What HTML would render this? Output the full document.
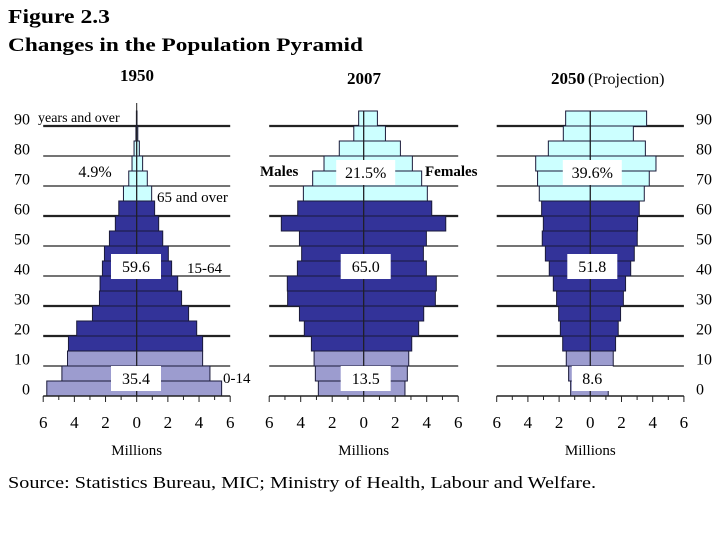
<!DOCTYPE html>
<html><head><meta charset="utf-8"><style>
html,body{margin:0;padding:0;background:#fff;}
svg{display:block;font-family:"Liberation Serif",serif;}
</style></head><body>
<svg id="chart" width="720" height="540" viewBox="0 0 720 540" xmlns="http://www.w3.org/2000/svg">
<text x="8" y="23" font-size="20" font-weight="bold" textLength="102" lengthAdjust="spacingAndGlyphs">Figure 2.3</text>
<text x="8" y="51" font-size="19" font-weight="bold" textLength="355" lengthAdjust="spacingAndGlyphs">Changes in the Population Pyramid</text>
<text x="8" y="488" font-size="17" textLength="588" lengthAdjust="spacingAndGlyphs">Source:  Statistics Bureau, MIC;  Ministry of Health, Labour and Welfare.</text>
<g id="plots"></g>
</svg>
<script>
// Age groups (5-year, bottom to top)
const ageGroups = ["0-4","5-9","10-14","15-19","20-24","25-29","30-34","35-39","40-44","45-49","50-54","55-59","60-64","65-69","70-74","75-79","80-84","85-89","90+"];
const yTickLabels = ["0","10","20","30","40","50","60","70","80","90"];
const xTickLabels = ["6","4","2","0","2","4","6"];
const males1950   = [5.77,4.8,4.44,4.38,3.85,2.84,2.39,2.35,2.2,2.07,1.75,1.37,1.15,0.85,0.51,0.3,0.17,0.05,0.02];
const females1950 = [5.45,4.7,4.23,4.23,3.85,3.33,2.88,2.63,2.24,2.03,1.67,1.41,1.15,0.96,0.68,0.38,0.17,0.07,0.02];
const males2007   = [2.88,3.07,3.15,3.32,3.77,4.08,4.83,4.85,4.21,3.94,4.08,5.23,4.19,3.83,3.24,2.52,1.55,0.63,0.32];
const females2007 = [2.62,2.77,2.86,3.05,3.49,3.81,4.55,4.61,3.98,3.79,3.98,5.21,4.32,4.04,3.68,3.09,2.33,1.38,0.87];
const males2050   = [1.26,1.39,1.54,1.77,1.92,2.03,2.16,2.37,2.63,2.88,3.08,3.01,3.12,3.27,3.38,3.5,2.69,1.73,1.58];
const females2050 = [1.15,1.3,1.47,1.62,1.79,1.94,2.12,2.26,2.59,2.82,3.01,3.03,3.14,3.46,3.78,4.21,3.53,2.76,3.61];
const panelYears = ["1950","2007","2050"];
const shares1950 = ["35.4","59.6","4.9%"];
const shares2007 = ["13.5","65.0","21.5%"];
const shares2050 = ["8.6","51.8","39.6%"];

const NS="http://www.w3.org/2000/svg";
const root=document.getElementById('plots');
function mk(tag,attrs,parent){const e=document.createElementNS(NS,tag);for(const k in attrs)e.setAttribute(k,attrs[k]);(parent||root).appendChild(e);return e;}
const BOTTOM=396,ROWH=15,MAXV=6;
const thickLines=[2,3,6,9];
function yRow(i){return BOTTOM-ROWH*(i+1);}
function colorFor(i){return i<3?"#9c9ccf":(i<13?"#333399":"#ccffff");}

const panels=[
 {cx:136.7,half:93.5,m:males1950,f:females1950,s:shares1950,slug:"1950"},
 {cx:363.7,half:94.5,m:males2007,f:females2007,s:shares2007,slug:"2007"},
 {cx:590.3,half:93.6,m:males2050,f:females2050,s:shares2050,slug:"2050"}
];
panels.forEach((p,pi)=>{
  const g=mk('g',{});
  
  
  const xs=v=>v/MAXV*p.half;
  for(let k=1;k<=9;k++){
    const y=BOTTOM-30*k;
    const l=mk('line',{x1:p.cx-p.half,x2:p.cx+p.half,y1:y,y2:y,stroke:"#222","stroke-width":(thickLines.includes(k)?2.2:1.2)},g);
    
    
  }
  ageGroups.forEach((a,i)=>{
    const y=yRow(i);
    const wm=xs(p.m[i]),wf=xs(p.f[i]);
    const bm=mk('rect',{x:p.cx-wm,y:y,width:wm,height:ROWH,fill:colorFor(i),stroke:"#1a1a3a","stroke-width":1},g);
    
    
    const bf=mk('rect',{x:p.cx,y:y,width:wf,height:ROWH,fill:colorFor(i),stroke:"#1a1a3a","stroke-width":1},g);
    
    
  });
  const c=mk('line',{x1:p.cx,x2:p.cx,y1:yRow(18)-(pi==0?8:0),y2:BOTTOM,stroke:"#222","stroke-width":1},g);
  
  
  const ax=mk('line',{x1:p.cx-p.half,x2:p.cx+p.half,y1:BOTTOM,y2:BOTTOM,stroke:"#222","stroke-width":1.5},g);
  
  
  for(let t=-6;t<=6;t++){
    const x=p.cx+xs(t);
    const tk=mk('line',{x1:x,x2:x,y1:BOTTOM,y2:BOTTOM+(t%2==0?6:4),stroke:"#222","stroke-width":1},g);
    
    
  }
  xTickLabels.forEach((lab,j)=>{
    const t=-6+2*j;
    const tx=mk('text',{x:p.cx+xs(t),y:428,"font-size":17,"text-anchor":"middle"},g);
    tx.textContent=lab;
    
    
  });
  const mt=mk('text',{x:p.cx,y:455,"font-size":15,"text-anchor":"middle"},g);
  mt.textContent="Millions";
  
  
  const boxY=[378,266,172];
  p.s.forEach((v,j)=>{
    if(pi==0&&j==2)return;
    const w=v.length*9+14;
    const bx=(pi==0?136:p.cx+2);
    const r=mk('rect',{x:bx-w/2,y:boxY[j]-12,width:w,height:25,fill:"#fff"},g);
    
    
    const t=mk('text',{x:bx,y:boxY[j]+6,"font-size":16,"text-anchor":"middle"},g);
    t.textContent=v;
    
    
  });
});
function txt(s,x,y,size,opts,name){const t=mk('text',Object.assign({x:x,y:y,"font-size":size},opts||{}));t.textContent=s;return t;}
txt(shares1950[2],95,177,16,{"text-anchor":"middle"},'share-label-1950-65plus');
txt("years and over",38,122,14,{},'age-top-label');
txt("65 and over",157,202,15,{},'legend-65-and-over');
txt("15-64",187,273,15,{},'legend-15-64');
txt("0-14",223,383,15,{},'legend-0-14');
txt("Males",260,176,15,{"font-weight":"bold"},'males-label');
txt("Females",425,176,15,{"font-weight":"bold"},'females-label');
txt(panelYears[0],137,81,17,{"font-weight":"bold","text-anchor":"middle"},'year-title-1950');
txt(panelYears[1],364,84,17,{"font-weight":"bold","text-anchor":"middle"},'year-title-2007');
txt(panelYears[2],568,84,17,{"font-weight":"bold","text-anchor":"middle"},'year-title-2050');
txt("(Projection)",588,84,16,{},'projection-note');
yTickLabels.forEach((lab,k)=>{
  const y=yRow(2*k)+ROWH/2+6;
  txt(lab,k==9?22:30,y,16,{"text-anchor":k==9?"middle":"end"},'y-tick-label-left');
  txt(lab,696,y,16,{},'y-tick-label-right');
});
</script>
</body></html>
